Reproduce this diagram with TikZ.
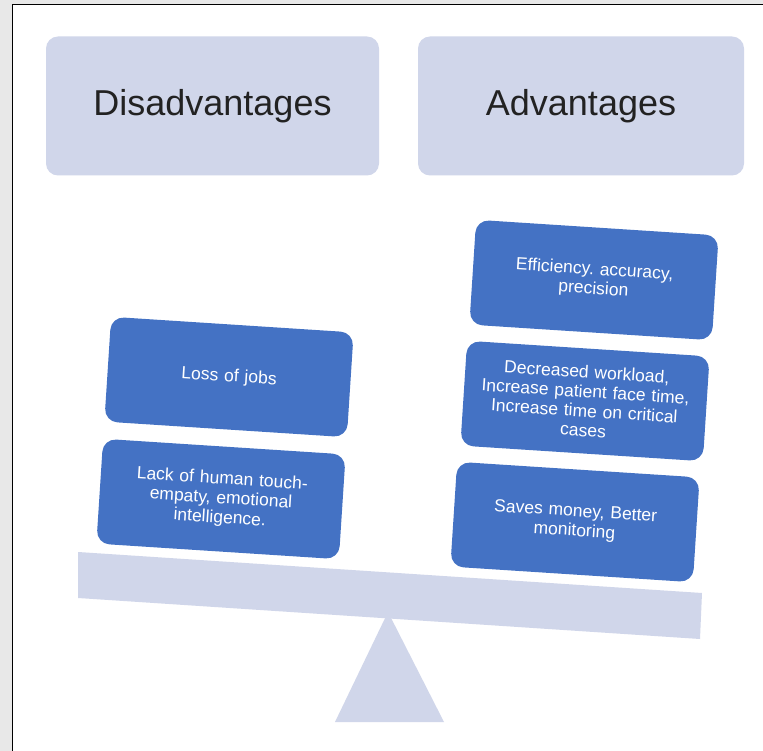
\documentclass[tikz,border=0pt]{standalone}
\usepackage{fontspec}
\setmainfont{Liberation Sans}
\usetikzlibrary{positioning}
\frenchspacing
\definecolor{panelgray}{HTML}{E8E8E8}
\definecolor{lightbar}{HTML}{D0D6EA}
\definecolor{itemblue}{HTML}{4472C4}
\definecolor{titleink}{HTML}{222222}
\tikzset{
  headbox/.style={fill=lightbar, rounded corners=12pt, minimum width=333pt,
    minimum height=139pt, text=titleink, font=\fontsize{36}{40}\selectfont},
  itembox/.style={fill=itemblue, rounded corners=13pt, minimum width=243pt,
    minimum height=105pt, text width=225pt, align=center, text=white,
    rotate=-3.7, font=\fontsize{17.5}{19.5}\selectfont}
}
\begin{document}
\begin{tikzpicture}[x=1pt, y=-1pt]
    \useasboundingbox (0,0) rectangle (763,751);
    % frame
    \fill[panelgray] (0,0) rectangle (763,751);
    \fill[white] (12.5,4.5) rectangle (763,751);
    \draw[line width=1.5pt] (12.5,751) -- (12.5,4.5) -- (763,4.5);

    % headings
    \node[headbox] (disadv) at (212.5,106) {Disadvantages};
    \node[headbox, minimum width=326pt] (adv) at (581,106) {Advantages};

    % fulcrum and beam
    \fill[lightbar] (388,612) -- (444,722) -- (335,722) -- cycle;
    \fill[lightbar] (78,552) -- (702,593) -- (700,639) -- (78,598) -- cycle;

    % left pan
    \node[itembox] (loss) at (229,377) {Loss of jobs};
    \node[itembox] (lack) at (221,499) {Lack of human touch-\\empaty, emotional\\intelligence.};

    % right pan
    \node[itembox] (effic) at (594,280) {Efficiency. accuracy,\\precision};
    \node[itembox] (workload) at (585,401) {Decreased workload,\\Increase patient face time,\\Increase time on critical\\cases};
    \node[itembox] (saves) at (575,522) {Saves money, Better\\monitoring};
\end{tikzpicture}
\end{document}
